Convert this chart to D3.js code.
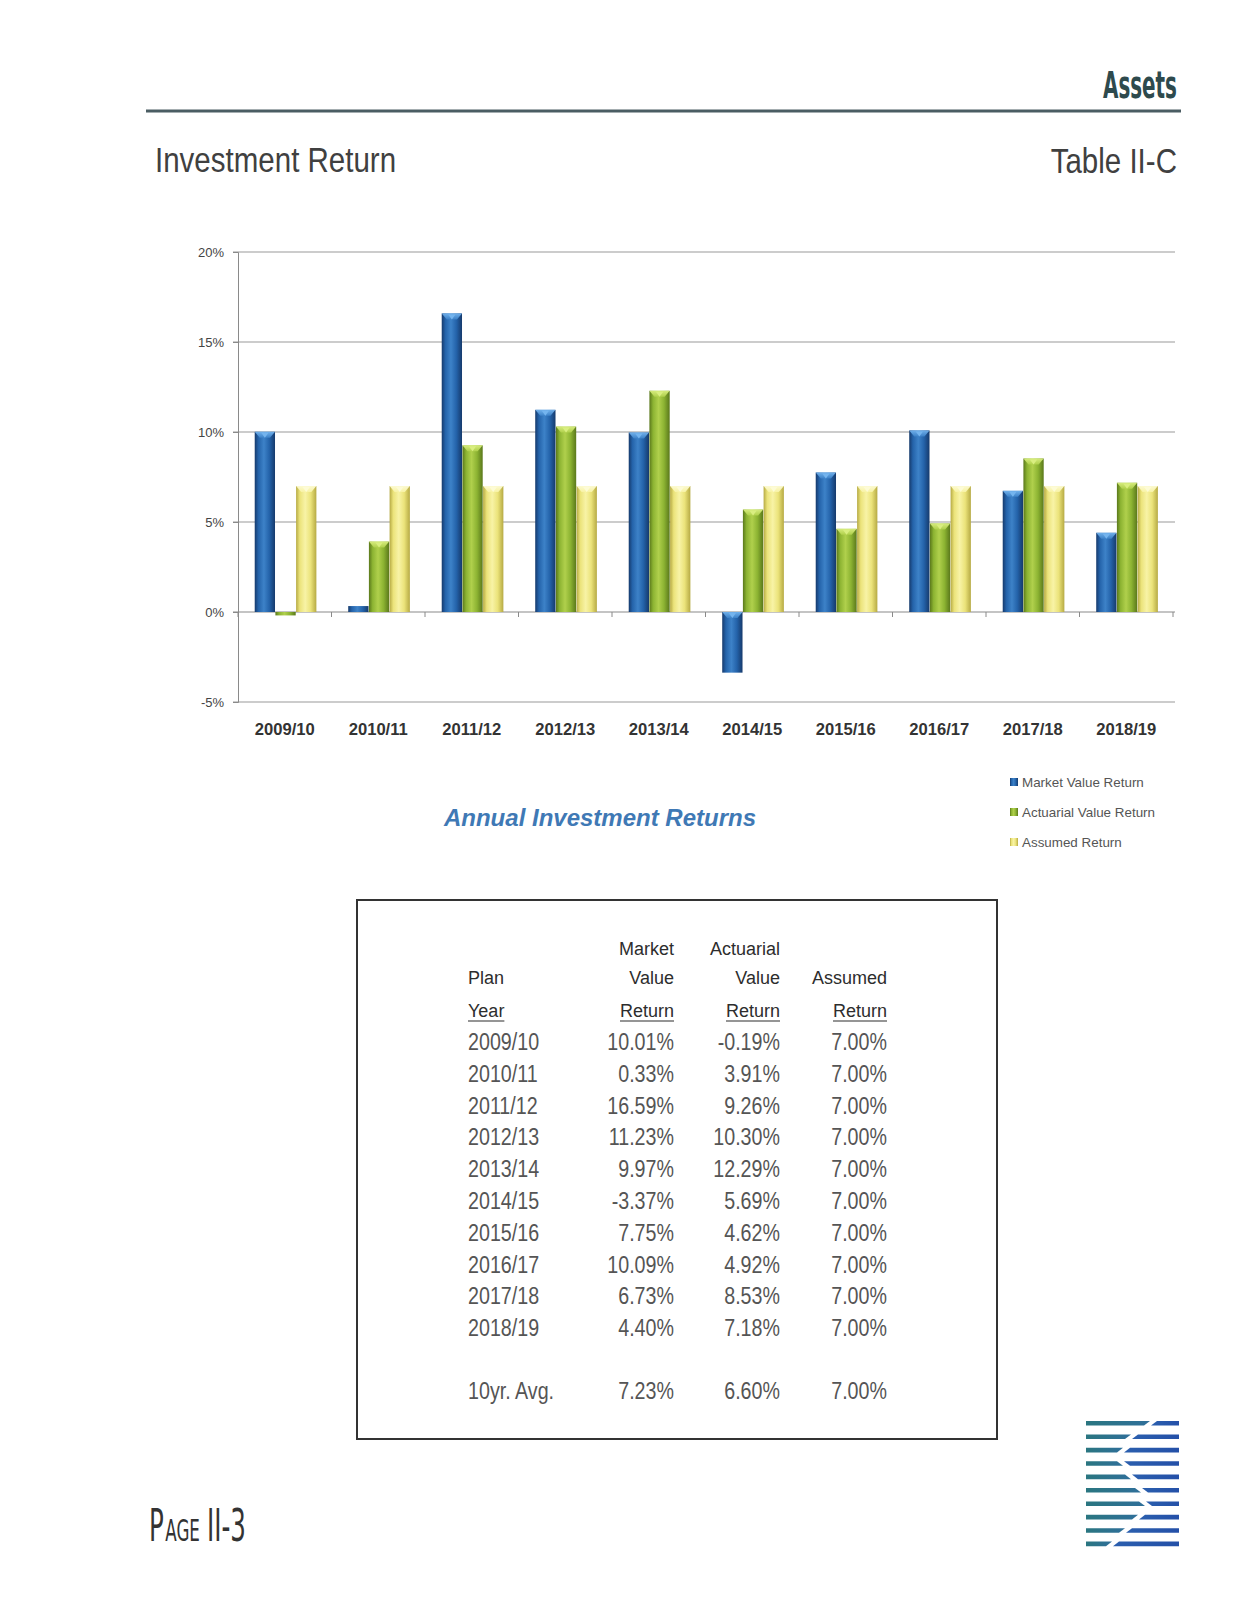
<!DOCTYPE html>
<html><head><meta charset="utf-8">
<script src="https://cdn.jsdelivr.net/npm/d3@7"></script>
<style>body{margin:0;background:#fff} svg{display:block}</style>
</head><body>
<svg id="page" width="1251" height="1615"></svg>
<script>
// ---------- data ----------
const years = ["2009/10","2010/11","2011/12","2012/13","2013/14","2014/15","2015/16","2016/17","2017/18","2018/19"];
const marketValue = [10.01, 0.33, 16.59, 11.23, 9.97, -3.37, 7.75, 10.09, 6.73, 4.40];
const actuarialValue = [-0.19, 3.91, 9.26, 10.30, 12.29, 5.69, 4.62, 4.92, 8.53, 7.18];
const assumedReturn = [7.00, 7.00, 7.00, 7.00, 7.00, 7.00, 7.00, 7.00, 7.00, 7.00];
const seriesNames = ["Market Value Return", "Actuarial Value Return", "Assumed Return"];
const yTicks = [-5, 0, 5, 10, 15, 20];
const avgLabel = "10yr. Avg.";
const avgValues = [7.23, 6.60, 7.00];

const seriesValues = [marketValue, actuarialValue, assumedReturn];

const svg = d3.select("#page");
const defs = svg.append("defs");
const FONT = "'Liberation Sans', Arial, sans-serif";
const COND = "'DejaVu Sans Condensed', 'DejaVu Sans', sans-serif";

// horizontally condensed text via a scaled group
// ratio < 0 means: fit to the absolute width -ratio
function narrowText(g, str, x, y, size, anchor, ratio, attrs, family) {
  const grp = g.append("g");
  const t = grp.append("text").attr("x", 0).attr("y", 0)
    .attr("font-family", family || FONT).attr("font-size", size).text(str);
  if (attrs) Object.entries(attrs).forEach(([k, v]) => t.attr(k, v));
  const natural = t.node().getComputedTextLength();
  const r = ratio < 0 ? (-ratio) / natural : ratio;
  const len = natural * r;
  let sx = x;
  if (anchor === "end") sx = x - len;
  else if (anchor === "middle") sx = x - len / 2;
  grp.attr("transform", `translate(${sx},${y}) scale(${r},1)`);
  return {len, x: sx};
}

// ---------- header ----------
narrowText(svg, "Assets", 1177, 98, 37, "end", -74, {fill: "#2e4a4d", "font-weight": "bold"}, COND);
svg.append("line").attr("x1", 146).attr("x2", 1181).attr("y1", 111).attr("y2", 111)
  .attr("stroke", "#4b5d63").attr("stroke-width", 3);

narrowText(svg, "Investment Return", 155, 172, 36, "start", 0.82, {fill: "#404040"});
narrowText(svg, "Table II-C", 1177, 173, 36, "end", 0.82, {fill: "#404040"});

// ---------- chart ----------
const y = d3.scaleLinear().domain([-5, 20]).range([702, 252]);
const x0 = d3.scaleBand().domain(years).range([238, 1173]).paddingInner(0).paddingOuter(0);
const x1 = d3.scaleBand().domain([0, 1, 2]).range([0, x0.bandwidth()]).paddingInner(0).paddingOuter(0.76);

const chart = svg.append("g");

// gridlines
chart.append("g").selectAll("line").data(yTicks).join("line")
  .attr("x1", 233).attr("x2", 1175)
  .attr("y1", d => y(d)).attr("y2", d => y(d))
  .attr("stroke", d => d === 0 ? "#8a8a8a" : "#9a9a9a").attr("stroke-width", 1.1);

// y axis
const yAxis = d3.axisLeft(y).tickValues(yTicks).tickFormat(d => d + "%").tickSize(5).tickPadding(9);
const yg = chart.append("g").attr("transform", "translate(238,0)").call(yAxis);
yg.select(".domain").attr("stroke", "#8a8a8a");
yg.selectAll(".tick line").attr("stroke", "#8a8a8a");
yg.selectAll(".tick text").attr("font-family", FONT).attr("font-size", 13).attr("fill", "#444");

// x axis at zero with ticks at band edges
const xg = chart.append("g").attr("transform", `translate(0,${y(0)})`);
xg.selectAll("line").data(years.map(d => x0(d)).concat([x0.range()[1]])).join("line")
  .attr("x1", d => d).attr("x2", d => d).attr("y1", 0).attr("y2", 5)
  .attr("stroke", "#8a8a8a");

chart.append("g").selectAll("text").data(years).join("text")
  .attr("x", d => x0(d) + x0.bandwidth() / 2).attr("y", 735)
  .attr("text-anchor", "middle").attr("font-family", FONT).attr("font-weight", "bold")
  .attr("font-size", 16.6).attr("fill", "#333").text(d => d);

// bar gradients
const palettes = [
  {dark: "#163a6c", mid: "#2463aa", light: "#3d82c8", cap: "#74b4ee"},
  {dark: "#5a781b", mid: "#8cb332", light: "#b0d04c", cap: "#d9ee80"},
  {dark: "#b6aa44", mid: "#ebe37a", light: "#f8f3a6", cap: "#fdfbd6"}
];
palettes.forEach((p, i) => {
  const g = defs.append("linearGradient").attr("id", "bar" + i).attr("x1", 0).attr("x2", 1).attr("y1", 0).attr("y2", 0);
  [[0, p.dark], [0.18, p.mid], [0.45, p.light], [0.72, p.mid], [1, p.dark]].forEach(([o, c]) =>
    g.append("stop").attr("offset", o).attr("stop-color", c));
  const c = defs.append("linearGradient").attr("id", "cap" + i).attr("x1", 0).attr("x2", 0).attr("y1", 0).attr("y2", 1);
  c.append("stop").attr("offset", 0).attr("stop-color", p.cap);
  c.append("stop").attr("offset", 1).attr("stop-color", p.light);
});

const barData = [];
years.forEach((yr, i) => seriesValues.forEach((vals, s) => barData.push({yr, s, v: vals[i]})));

const bars = chart.append("g").selectAll("g").data(barData).join("g")
  .attr("transform", d => `translate(${x0(d.yr) + x1(d.s) + 1},0)`);
const bw = x1.bandwidth() - 0.4;
bars.append("rect")
  .attr("x", 0).attr("width", bw)
  .attr("y", d => y(Math.max(0, d.v)))
  .attr("height", d => Math.abs(y(d.v) - y(0)))
  .attr("fill", d => `url(#bar${d.s})`);
// bevel cap
const tall = bars.filter(d => Math.abs(y(d.v) - y(0)) > 6);
tall.append("path")
  .attr("d", d => {
    const t = y(Math.max(0, d.v));
    const h = 6;
    return `M0,${t} L${bw},${t} L${bw * 0.75},${t + h} L${bw * 0.25},${t + h} Z`;
  })
  .attr("fill", d => `url(#cap${d.s})`).attr("opacity", 0.95);
tall.append("path")
  .attr("d", d => {
    const t = y(Math.max(0, d.v));
    return `M${bw * 0.32},${t + 1} L${bw * 0.68},${t + 1} L${bw * 0.5},${t + 6} Z`;
  })
  .attr("fill", d => palettes[d.s].cap);

// caption
svg.append("text").attr("x", 600).attr("y", 826).attr("text-anchor", "middle")
  .attr("font-family", FONT).attr("font-weight", "bold").attr("font-style", "italic")
  .attr("font-size", 24).attr("fill", "#3f79b5").text("Annual Investment Returns");

// legend
const lg = svg.append("g").selectAll("g").data(seriesNames).join("g")
  .attr("transform", (d, i) => `translate(1010,${787 + i * 30})`);
lg.append("rect").attr("x", 0).attr("y", -9).attr("width", 8).attr("height", 8)
  .attr("fill", (d, i) => `url(#bar${i})`);
lg.append("text").attr("x", 12).attr("y", 0).attr("font-family", FONT).attr("font-size", 13.4)
  .attr("fill", "#555").text(d => d);

// ---------- table ----------
const tb = svg.append("g");
tb.append("rect").attr("x", 357).attr("y", 900).attr("width", 640).attr("height", 539)
  .attr("fill", "none").attr("stroke", "#333").attr("stroke-width", 2);

const colRight = [674, 780, 887];
const hdr = {font: FONT, size: 18, fill: "#2d2d2d"};
function hText(str, x, yy, anchor, underline) {
  const t = tb.append("text").attr("x", x).attr("y", yy).attr("text-anchor", anchor)
    .attr("font-family", hdr.font).attr("font-size", hdr.size).attr("fill", hdr.fill).text(str);
  if (underline) {
    const w = t.node().getComputedTextLength();
    const xs = anchor === "end" ? x - w : x;
    tb.append("line").attr("x1", xs).attr("x2", xs + w).attr("y1", yy + 4).attr("y2", yy + 4)
      .attr("stroke", hdr.fill).attr("stroke-width", 1.2);
  }
}
hText("Market", colRight[0], 955, "end");
hText("Actuarial", colRight[1], 955, "end");
hText("Plan", 468, 984, "start");
hText("Value", colRight[0], 984, "end");
hText("Value", colRight[1], 984, "end");
hText("Assumed", colRight[2], 984, "end");
hText("Year", 468, 1017, "start", true);
colRight.forEach(cx => hText("Return", cx, 1017, "end", true));

const DATA_FILL = {fill: "#555"};
const fmt = v => v.toFixed(2) + "%";
years.forEach((yr, i) => {
  const yy = 1050 + i * 31.8;
  narrowText(tb, yr, 468, yy, 24, "start", 0.82, DATA_FILL);
  seriesValues.forEach((vals, s) => narrowText(tb, fmt(vals[i]), colRight[s], yy, 24, "end", 0.82, DATA_FILL));
});
narrowText(tb, avgLabel, 468, 1399, 24, "start", 0.82, DATA_FILL);
avgValues.forEach((v, s) => narrowText(tb, fmt(v), colRight[s], 1399, 24, "end", 0.82, DATA_FILL));

// ---------- footer ----------
const foot = svg.append("g");
const p1 = narrowText(foot, "P", 149, 1541, 44, "start", 0.62, {fill: "#333"}, COND);
const p2 = narrowText(foot, "AGE", p1.x + p1.len + 1.5, 1541, 30, "start", 0.62, {fill: "#333"}, COND);
narrowText(foot, "II-3", p2.x + p2.len + 7, 1541, 44, "start", 0.62, {fill: "#333"}, COND);

// logo
const lgrad = defs.append("linearGradient").attr("id", "logoL");
lgrad.append("stop").attr("offset", 0).attr("stop-color", "#2a7680");
lgrad.append("stop").attr("offset", 1).attr("stop-color", "#2f6f9a");
const rgrad = defs.append("linearGradient").attr("id", "logoR");
rgrad.append("stop").attr("offset", 0).attr("stop-color", "#2b5fae");
rgrad.append("stop").attr("offset", 1).attr("stop-color", "#2450a8");
const gapX = [1150, 1131, 1123, 1123, 1131, 1141, 1145, 1138, 1125, 1112];
const logo = svg.append("g");
gapX.forEach((gx, k) => {
  const yt = 1421 + k * 13.4, h = 4.6;
  const slope = k < 3 || k > 6 ? 3 : -3;
  logo.append("path").attr("d", `M1086,${yt} L${gx - 3 + slope},${yt} L${gx - 3 - slope},${yt + h} L1086,${yt + h} Z`).attr("fill", "url(#logoL)");
  logo.append("path").attr("d", `M${gx + 4 + slope},${yt} L1179,${yt} L1179,${yt + h} L${gx + 4 - slope},${yt + h} Z`).attr("fill", "url(#logoR)");
});
</script>
</body></html>
